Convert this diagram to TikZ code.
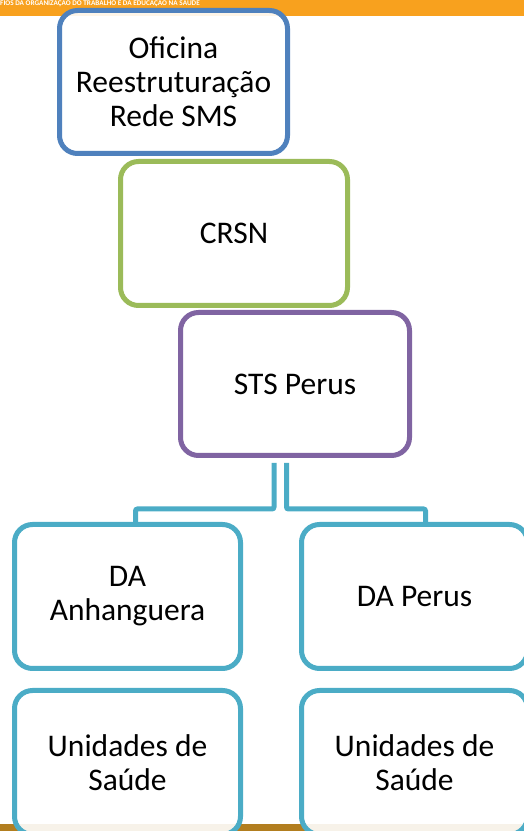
\documentclass[tikz,border=0pt]{standalone}
\usepackage{fontspec}
\setmainfont{Carlito}
\definecolor{cblue}{HTML}{4F81BD}
\definecolor{cgreen}{HTML}{9BBB59}
\definecolor{cpurple}{HTML}{8064A2}
\definecolor{cteal}{HTML}{4BACC6}
\definecolor{banner}{HTML}{F8A11E}
\definecolor{band}{HTML}{B27E1F}
\tikzset{
  box/.style={draw=#1, line width=5pt, rounded corners=18pt, fill=white, fill opacity=0.9, text opacity=1,
    inner sep=0pt, align=center, font=\fontsize{31.5}{34}\selectfont, text=black},
  conn/.style={draw=cteal, line width=5pt, rounded corners=2pt}
}
\begin{document}
\begin{tikzpicture}[x=1pt,y=1pt]
\useasboundingbox (0,0) rectangle (524,831);
% banner and band
\fill[banner] (0,814.5) rectangle (524,831);
\node[anchor=west, inner sep=0pt, text=white, font=\fontsize{7.2}{8}\selectfont\bfseries] (bantxt) at (0,827.5) {FIOS DA ORGANIZAÇÃO DO TRABALHO E DA EDUCAÇÃO NA SAÚDE};
\fill[band] (0,0) rectangle (524,7);
% boxes
\node[box=cblue, minimum width=228pt, minimum height=143pt] (ofi) at (173.5,749) {Oficina\\Reestruturação\\Rede SMS};
\node[box=cgreen, minimum width=227pt, minimum height=144pt] (crsn) at (234,597.5) {CRSN};
\node[box=cpurple, minimum width=229pt, minimum height=143pt] (sts) at (295,447) {STS Perus};
\node[box=cteal, minimum width=226pt, minimum height=144pt] (da1) at (127.5,234.5) {DA\\Anhanguera};
\node[box=cteal, minimum width=226pt, minimum height=144pt] (da2) at (414.5,234.5) {DA Perus};
\node[box=cteal, minimum width=226pt, minimum height=144pt] (us1) at (127.5,68.5) {Unidades de\\Saúde};
\node[box=cteal, minimum width=226pt, minimum height=144pt] (us2) at (414.5,68.5) {Unidades de\\Saúde};
% connectors
\draw[conn] ([xshift=-21pt,yshift=-5pt]sts.south) -- ++(0,-46) -| ([xshift=8pt]da1.north);
\draw[conn] ([xshift=-8.5pt,yshift=-5pt]sts.south) -- ++(0,-46) -| ([xshift=11pt]da2.north);
\end{tikzpicture}
\end{document}
